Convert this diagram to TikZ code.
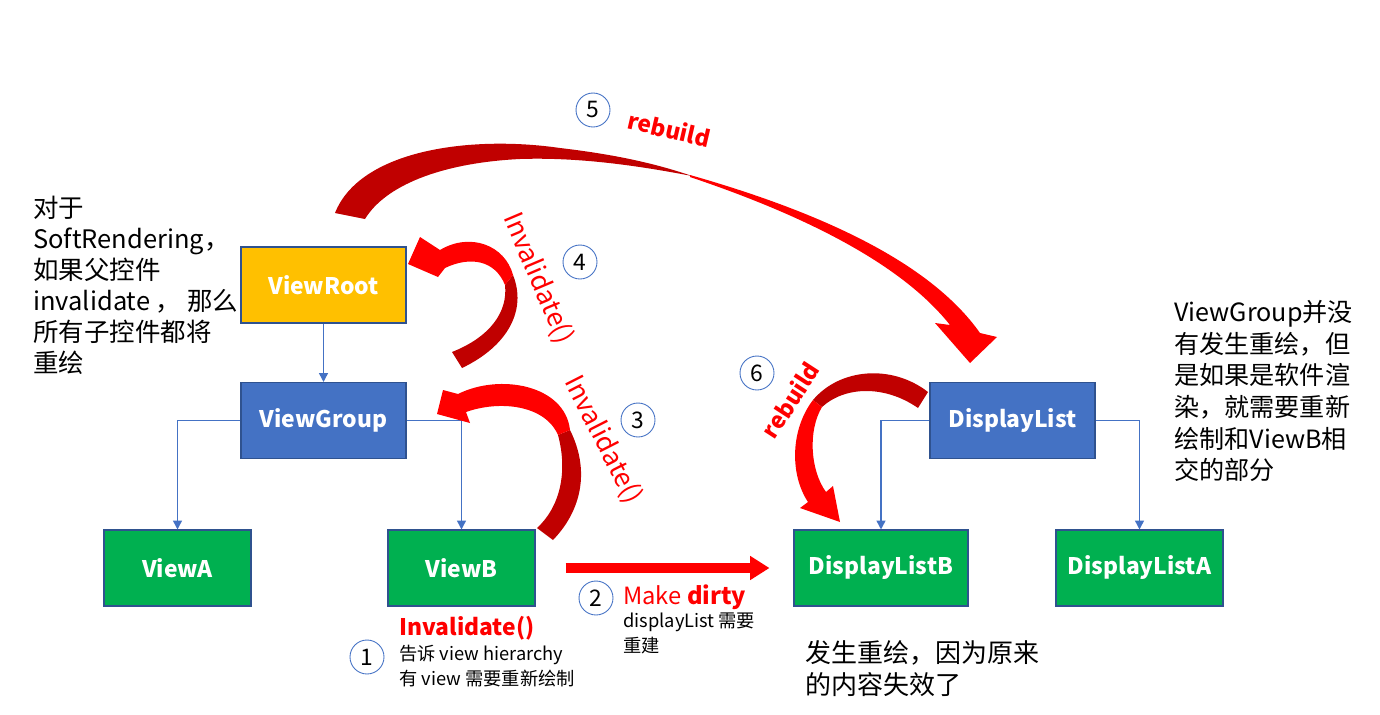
\documentclass[tikz,border=0pt]{standalone}
\usepackage{fontspec}
\setmainfont{Noto Sans CJK SC}
\usepackage{tikz}
\usetikzlibrary{positioning,arrows.meta,calc}
\definecolor{rootyellow}{HTML}{FFC000}
\definecolor{groupblue}{HTML}{4472C4}
\definecolor{leafgreen}{HTML}{00B050}
\definecolor{edgeblue}{HTML}{2F528F}
\definecolor{backred}{HTML}{C00000}
\definecolor{frontred}{HTML}{FF0000}

\begin{document}
\begin{tikzpicture}[x=0.02cm, y=-0.02cm, >=Stealth, every node/.style={align=center},
  viewbox/.style={draw=edgeblue, line width=0.6pt, minimum height=1.52cm, text=white,
                  font=\fontsize{13}{15}\selectfont\bfseries},
  link/.style={draw=groupblue, line width=0.85pt, -{Triangle[width=5pt,length=5pt]}},
  stepnum/.style={circle, draw=groupblue, line width=0.5pt, minimum size=0.68cm, inner sep=0pt,
                  font=\fontsize{13}{14}\selectfont},
  note/.style={align=left, inner sep=0pt, anchor=north west},
  redlabel/.style={text=frontred, inner sep=0pt, font=\fontsize{13.5}{15}\selectfont}]
  \useasboundingbox (0,0) rectangle (1380,714);

  \node[viewbox, fill=rootyellow, minimum width=3.3cm] (vr) at (323.5,285) {ViewRoot};
  \node[viewbox, fill=groupblue, minimum width=3.3cm] (vg) at (323.5,420.5) {ViewGroup};
  \node[viewbox, fill=leafgreen, minimum width=2.94cm] (va) at (177.5,568) {ViewA};
  \node[viewbox, fill=leafgreen, minimum width=2.94cm] (vb) at (461.5,568) {ViewB};
  \node[viewbox, fill=leafgreen, minimum width=3.48cm] (dlb) at (881,568) {DisplayListB};
  \node[viewbox, fill=groupblue, minimum width=3.3cm] (dl) at (1012.5,420.5) {DisplayList};
  \node[viewbox, fill=leafgreen, minimum width=3.34cm] (dla) at (1139.5,568) {DisplayListA};

  \draw[link] (vr) -- (vg);
  \draw[link] (vg.west) -| (va.north);
  \draw[link] (vg.east) -| (vb.north);
  \draw[link] (dl.west) -| (dlb.north);
  \draw[link] (dl.east) -| (dla.north);

  \draw[frontred, line width=5.7pt, -{Triangle[width=13pt,length=11pt]}]
      ([xshift=0.6cm]vb.east) -- ([xshift=-0.48cm]dlb.west);

  % curved arrows: dark back part, bright front part
  \fill[backred] (335,213) .. controls (360,150) and (470,135) .. (560,148)
      .. controls (620,155) and (660,165) .. (692,176)
      .. controls (640,166) and (580,157) .. (520,159)
      .. controls (440,163) and (385,186) .. (365,219) -- cycle;
  \fill[frontred] (690,175) .. controls (820,212) and (930,262) .. (980,333)
      -- (997,337) -- (970,363) -- (935,323) -- (950,325)
      .. controls (900,262) and (800,214) .. (690,177) -- cycle;

  \fill[backred] (505,285) .. controls (508,312) and (490,337) .. (452,352)
      -- (462,368) .. controls (508,346) and (527,310) .. (513,275) -- cycle;
  \fill[frontred] (513,275) .. controls (505,245) and (470,232) .. (440,250)
      -- (420,237) -- (408,264) -- (438,277) -- (445,268)
      .. controls (470,256) and (495,260) .. (505,285) -- cycle;

  \fill[backred] (558,435) .. controls (568,472) and (560,507) .. (537,528)
      -- (553,540) .. controls (582,510) and (590,470) .. (570,430) -- cycle;
  \fill[frontred] (570,430) .. controls (565,385) and (500,373) .. (458,394)
      -- (443,390) -- (437,414) -- (470,423) -- (466,412)
      .. controls (500,400) and (545,405) .. (558,435) -- cycle;

  \fill[backred] (813,400) .. controls (840,368) and (892,364) .. (928,392)
      -- (918,408) .. controls (885,385) and (845,386) .. (822,407) -- cycle;
  \fill[frontred] (813,400) .. controls (790,430) and (790,475) .. (808,502)
      -- (800,508) -- (840,522) -- (833,486) -- (826,492)
      .. controls (810,470) and (808,430) .. (822,407) -- cycle;

  \node[stepnum] (n1) at (367,657) {1};
  \node[redlabel, font=\fontsize{13}{15}\selectfont\bfseries] (inv1) at (467,628) {Invalidate()};
  \node[note, font=\fontsize{10.4}{14.2}\selectfont] (inv1note) at (399,645)
      {告诉 view hierarchy\\有 view 需要重新绘制};

  \node[stepnum] (n2) at (596,598) {2};
  \node[redlabel, anchor=west] (dirty) at (623,597) {Make \textbf{dirty}};
  \node[note, font=\fontsize{10.4}{14.2}\selectfont] (dirtynote) at (623,613) {displayList 需要\\重建};

  \node[stepnum] (n3) at (638,420) {3};
  \node[redlabel, rotate=-63, font=\fontsize{15}{16}\selectfont] (inv3) at (603,440) {Invalidate()};

  \node[stepnum] (n4) at (580,262) {4};
  \node[redlabel, rotate=-67, font=\fontsize{15}{16}\selectfont] (inv4) at (538,278) {Invalidate()};

  \node[stepnum] (n5) at (593,110) {5};
  \node[redlabel, rotate=-13, font=\fontsize{13}{14}\selectfont\bfseries] (rb5) at (669,129) {rebuild};

  \node[stepnum] (n6) at (757,373) {6};
  \node[redlabel, rotate=57, font=\fontsize{13}{14}\selectfont\bfseries] (rb6) at (790,400) {rebuild};

  \node[note, font=\fontsize{14.5}{17.6}\selectfont] (softnote) at (33,196)
      {对于\\SoftRendering，\\如果父控件\\invalidate ， 那么\\所有子控件都将\\重绘};
  \node[note, font=\fontsize{14.3}{18}\selectfont] (hwnote) at (1174,300)
      {ViewGroup并没\\有发生重绘，但\\是如果是软件渲\\染，就需要重新\\绘制和ViewB相\\交的部分};
  \node[note, font=\fontsize{14.8}{18.1}\selectfont] (dlbnote) at (805,640)
      {发生重绘，因为原来\\的内容失效了};
\end{tikzpicture}
\end{document}
